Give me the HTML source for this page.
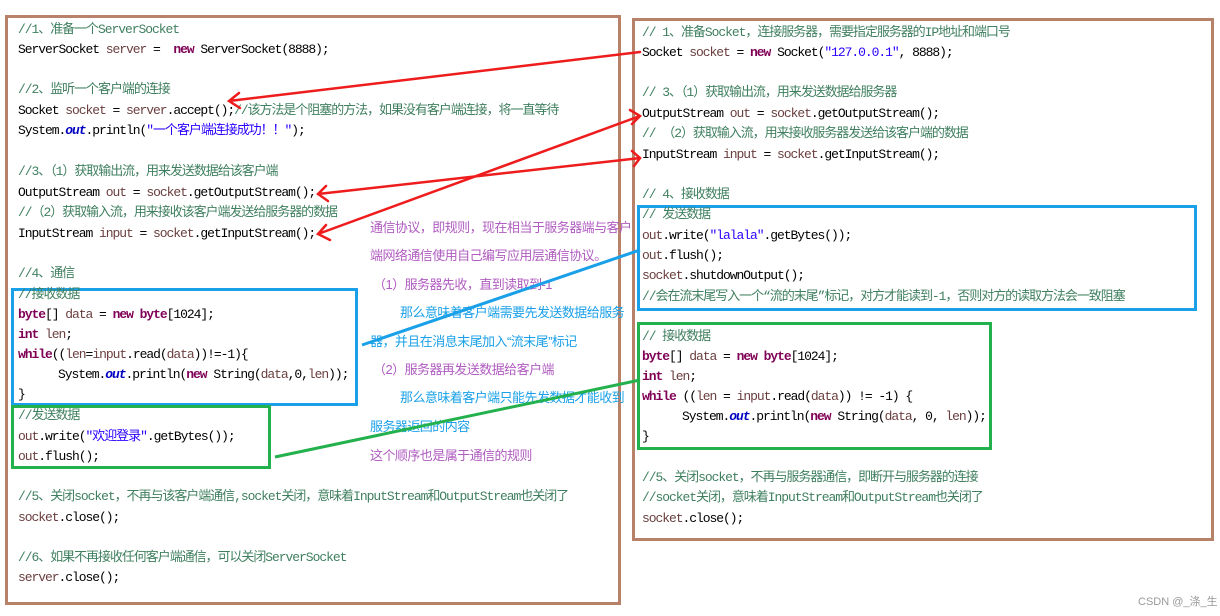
<!DOCTYPE html>
<html><head><meta charset="utf-8"><style>
body{margin:0;width:1220px;height:616px;background:#fff;position:relative;overflow:hidden;font-family:"Liberation Mono","Noto Sans CJK SC",monospace;}
.l{position:absolute;white-space:pre;font-size:13px;line-height:14px;color:#000;letter-spacing:-1.05px;}
.c{color:#3f7f5f}.k{color:#7f0055;font-weight:bold}.s{color:#2a00ff}.v{color:#6a3e3e}.f{color:#0000c0;font-weight:bold;font-style:italic}
.box{position:absolute;box-sizing:border-box;}
.m{position:absolute;white-space:pre;font-family:"Liberation Sans","Noto Sans CJK SC",sans-serif;font-size:13px;line-height:16px;letter-spacing:-0.55px}
.p{color:#b05cc0}.b{color:#1aa0e8}
</style></head><body>
<div class="box" style="left:5px;top:15px;width:616px;height:590px;border:3px solid #b8826a"></div>
<div class="box" style="left:632px;top:18px;width:582px;height:523px;border:3px solid #b8826a"></div>
<div class="box" style="left:11px;top:288px;width:347px;height:118px;border:3px solid #1aa0e8"></div>
<div class="box" style="left:11px;top:405px;width:260px;height:64px;border:3px solid #22b14c"></div>
<div class="box" style="left:637px;top:205px;width:560px;height:106px;border:3px solid #1aa0e8"></div>
<div class="box" style="left:637px;top:322px;width:355px;height:128px;border:3px solid #22b14c"></div>

<div class="l c" style="left:18px;top:23px">//1、准备一个ServerSocket</div>
<div class="l" style="left:18px;top:43px">ServerSocket <span class="v">server</span> =  <span class="k">new</span> ServerSocket(8888);</div>
<div class="l c" style="left:18px;top:83px">//2、监听一个客户端的连接</div>
<div class="l" style="left:18px;top:104px">Socket <span class="v">socket</span> = <span class="v">server</span>.accept();<span class="c">//该方法是个阻塞的方法，如果没有客户端连接，将一直等待</span></div>
<div class="l" style="left:18px;top:124px">System.<span class="f">out</span>.println(<span class="s">"一个客户端连接成功！！"</span>);</div>
<div class="l c" style="left:18px;top:165px">//3、（1）获取输出流，用来发送数据给该客户端</div>
<div class="l" style="left:18px;top:186px">OutputStream <span class="v">out</span> = <span class="v">socket</span>.getOutputStream();</div>
<div class="l c" style="left:18px;top:206px">//（2）获取输入流，用来接收该客户端发送给服务器的数据</div>
<div class="l" style="left:18px;top:227px">InputStream <span class="v">input</span> = <span class="v">socket</span>.getInputStream();</div>
<div class="l c" style="left:18px;top:267px">//4、通信</div>
<div class="l c" style="left:18px;top:288px">//接收数据</div>
<div class="l" style="left:18px;top:308px"><span class="k">byte</span>[] <span class="v">data</span> = <span class="k">new</span> <span class="k">byte</span>[1024];</div>
<div class="l" style="left:18px;top:328px"><span class="k">int</span> <span class="v">len</span>;</div>
<div class="l" style="left:18px;top:348px"><span class="k">while</span>((<span class="v">len</span>=<span class="v">input</span>.read(<span class="v">data</span>))!=-1){</div>
<div class="l" style="left:58px;top:368px">System.<span class="f">out</span>.println(<span class="k">new</span> String(<span class="v">data</span>,0,<span class="v">len</span>));</div>
<div class="l" style="left:18px;top:388px">}</div>
<div class="l c" style="left:18px;top:409px">//发送数据</div>
<div class="l" style="left:18px;top:430px"><span class="v">out</span>.write(<span class="s">"欢迎登录"</span>.getBytes());</div>
<div class="l" style="left:18px;top:450px"><span class="v">out</span>.flush();</div>
<div class="l c" style="left:18px;top:490px">//5、关闭socket，不再与该客户端通信,socket关闭，意味着InputStream和OutputStream也关闭了</div>
<div class="l" style="left:18px;top:511px"><span class="v">socket</span>.close();</div>
<div class="l c" style="left:18px;top:551px">//6、如果不再接收任何客户端通信，可以关闭ServerSocket</div>
<div class="l" style="left:18px;top:571px"><span class="v">server</span>.close();</div>

<div class="l c" style="left:642px;top:26px">// 1、准备Socket，连接服务器，需要指定服务器的IP地址和端口号</div>
<div class="l" style="left:642px;top:46px">Socket <span class="v">socket</span> = <span class="k">new</span> Socket(<span class="s">"127.0.0.1"</span>, 8888);</div>
<div class="l c" style="left:642px;top:86px">// 3、（1）获取输出流，用来发送数据给服务器</div>
<div class="l" style="left:642px;top:107px">OutputStream <span class="v">out</span> = <span class="v">socket</span>.getOutputStream();</div>
<div class="l c" style="left:642px;top:127px">// （2）获取输入流，用来接收服务器发送给该客户端的数据</div>
<div class="l" style="left:642px;top:148px">InputStream <span class="v">input</span> = <span class="v">socket</span>.getInputStream();</div>
<div class="l c" style="left:642px;top:188px">// 4、接收数据</div>
<div class="l c" style="left:642px;top:208px">// 发送数据</div>
<div class="l" style="left:642px;top:229px"><span class="v">out</span>.write(<span class="s">"lalala"</span>.getBytes());</div>
<div class="l" style="left:642px;top:249px"><span class="v">out</span>.flush();</div>
<div class="l" style="left:642px;top:269px"><span class="v">socket</span>.shutdownOutput();</div>
<div class="l c" style="left:642px;top:290px">//会在流末尾写入一个“流的末尾”标记，对方才能读到-1，否则对方的读取方法会一致阻塞</div>
<div class="l c" style="left:642px;top:330px">// 接收数据</div>
<div class="l" style="left:642px;top:350px"><span class="k">byte</span>[] <span class="v">data</span> = <span class="k">new</span> <span class="k">byte</span>[1024];</div>
<div class="l" style="left:642px;top:370px"><span class="k">int</span> <span class="v">len</span>;</div>
<div class="l" style="left:642px;top:390px"><span class="k">while</span> ((<span class="v">len</span> = <span class="v">input</span>.read(<span class="v">data</span>)) != -1) {</div>
<div class="l" style="left:682px;top:410px">System.<span class="f">out</span>.println(<span class="k">new</span> String(<span class="v">data</span>, 0, <span class="v">len</span>));</div>
<div class="l" style="left:642px;top:430px">}</div>
<div class="l c" style="left:642px;top:471px">//5、关闭socket，不再与服务器通信，即断开与服务器的连接</div>
<div class="l c" style="left:642px;top:491px">//socket关闭，意味着InputStream和OutputStream也关闭了</div>
<div class="l" style="left:642px;top:512px"><span class="v">socket</span>.close();</div>

<div class="m p" style="left:370px;top:220px">通信协议，即规则，现在相当于服务器端与客户</div>
<div class="m p" style="left:370px;top:248px">端网络通信使用自己编写应用层通信协议。</div>
<div class="m p" style="left:373px;top:277px">（1）服务器先收，直到读取到-1</div>
<div class="m b" style="left:400px;top:305px">那么意味着客户端需要先发送数据给服务</div>
<div class="m b" style="left:370px;top:334px">器，并且在消息末尾加入“流末尾”标记</div>
<div class="m p" style="left:373px;top:362px">（2）服务器再发送数据给客户端</div>
<div class="m b" style="left:400px;top:390px">那么意味着客户端只能先发数据才能收到</div>
<div class="m b" style="left:370px;top:419px">服务器返回的内容</div>
<div class="m p" style="left:370px;top:448px">这个顺序也是属于通信的规则</div>

<div style="position:absolute;left:1138px;top:593px;white-space:nowrap;font-family:'Liberation Sans','Noto Sans CJK SC',sans-serif;font-size:11px;color:#999">CSDN @_涤_生</div>

<svg width="1220" height="616" style="position:absolute;left:0;top:0" fill="none">
<g stroke="#ee1c1c" stroke-width="2.5" stroke-linecap="round">
<path d="M640 52 L229 101 M239 93 L229 101 L240 108"/>
<path d="M640 116 L318 234 M326 225 L318 234 L330 240 M630 110 L640 116 L632 124"/>
<path d="M640 158 L318 194 M326 186 L318 194 L328 201 M632 151 L640 158 L634 166"/>
</g>
<path d="M362 345 L640 250" stroke="#1aa0e8" stroke-width="3"/>
<path d="M275 457 L640 380" stroke="#22b14c" stroke-width="3"/>
</svg>
</body></html>
